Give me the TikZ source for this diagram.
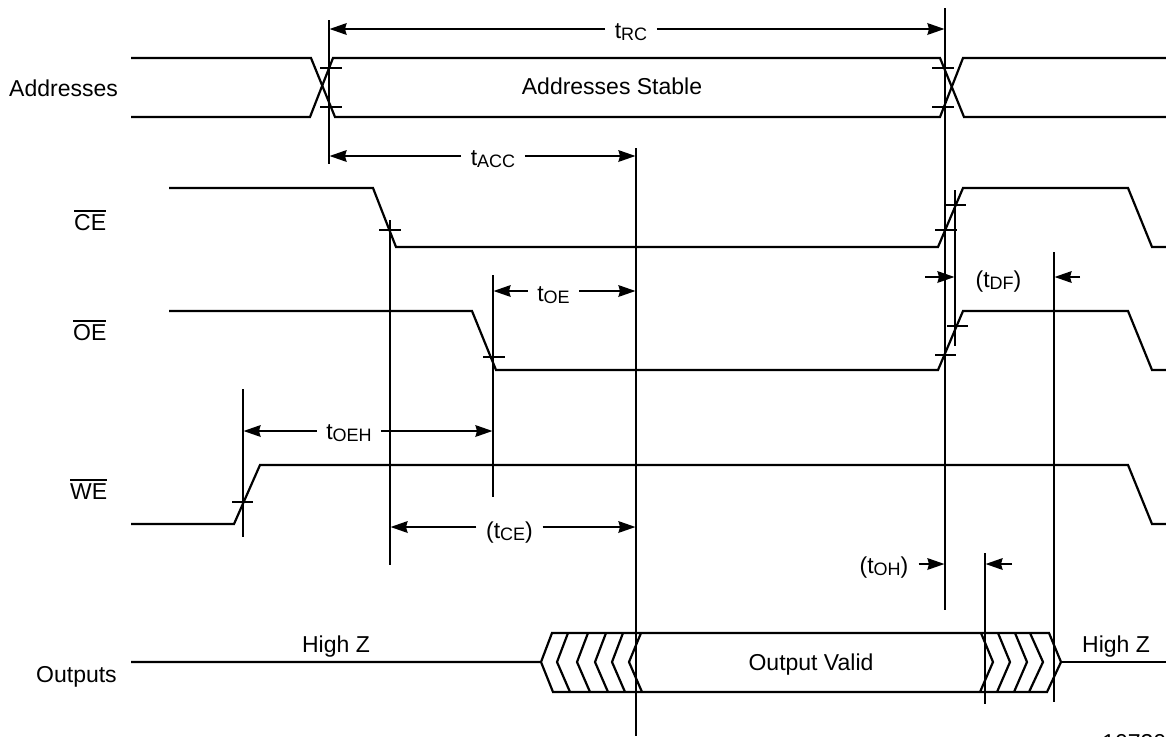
\documentclass[tikz,border=0pt]{standalone}
\usepackage{fontspec}
\setmainfont{Liberation Sans}
\usetikzlibrary{arrows.meta}
\newcommand{\ovl}[1]{\setbox0\hbox{#1}\rlap{\raisebox{18.2pt}{\rule{\wd0}{1.8pt}}}\box0 }
\newcommand{\tsub}[2]{#1\raisebox{-2.5pt}{\fontsize{18}{20}\selectfont #2}}
\tikzset{
  wave/.style={line width=2.2pt,line join=miter,black},
  guide/.style={line width=2.2pt,black},
  tick/.style={line width=2.2pt,black},
  dim/.style={line width=2.2pt,black,-{Stealth[length=17pt,width=11.5pt,inset=1.5pt]},shorten >=0.5pt},
  lab/.style={font=\fontsize{23}{27}\selectfont,inner sep=0pt,anchor=base,text=black},
  sig/.style={lab,anchor=base west},
  tlab/.style={lab,inner xsep=9.5pt},
}
\begin{document}
\begin{tikzpicture}[x=1pt,y=-1pt]
\useasboundingbox (0,0) rectangle (1166,736);
% guide lines
\draw[guide] (329,20) coordinate (gAt) -- (329,164) coordinate (gAb);
\draw[guide] (945,8) coordinate (gBt) -- (945,610) coordinate (gBb);
\draw[guide] (636,148) coordinate (gCt) -- (636,736) coordinate (gCb);
\draw[guide] (390,220) coordinate (gDt) -- (390,565) coordinate (gDb);
\draw[guide] (493,275) coordinate (gEt) -- (493,497) coordinate (gEb);
\draw[guide] (243,389) coordinate (gFt) -- (243,537) coordinate (gFb);
\draw[guide] (955,190) coordinate (gGt) -- (955,346) coordinate (gGb);
\draw[guide] (1054,252) coordinate (gHt) -- (1054,702) coordinate (gHb);
\draw[guide] (985,553) coordinate (gIt) -- (985,704) coordinate (gIb);
% waveforms
\draw[wave] (131,58) -- (311,58) -- (335,117) -- (940,117) -- (963,58) -- (1166,58);
\draw[wave] (131,117) -- (310,117) -- (333,58) -- (940,58) -- (964,117) -- (1166,117);
\draw[wave] (169,188) -- (373,188) -- (396,247) -- (938,247) -- (963,188) -- (1128,188) -- (1152,247) -- (1166,247);
\draw[wave] (169,311) -- (472,311) -- (496,370) -- (938,370) -- (963,311) -- (1128,311) -- (1152,370) -- (1166,370);
\draw[wave] (131,524) -- (234,524) -- (260,465) -- (1128,465) -- (1152,524) -- (1166,524);
% outputs
\draw[wave] (131,662) -- (541,662) -- (552,633) -- (1049,633) -- (1061,662) -- (1047,692) -- (553,692) -- (541,662);
\draw[wave] (1061,662) -- (1166,662);
\foreach \a/\b/\c in {568/557/570,588/577/590,606/595/608,623/612/625,641/629/642}
  \draw[wave] (\a,633) -- (\b,662) -- (\c,692);
\foreach \a/\b/\c in {981/993/980,998/1010/997,1015/1027/1014,1030/1043/1029}
  \draw[wave] (\a,633) -- (\b,662) -- (\c,692);
% ticks
\foreach \l/\r/\y in {320/342/68,320/342/107,932/954/68,932/954/107,379/401/230,945/966/205,935/957/230,483/505/357,947/968/326,935/956/355,232/253/502}
  \draw[tick] (\l,\y) -- (\r,\y);
% signal labels
\node[sig] (nAddr) at (9,96.5) {Addresses};
\node[sig] (nCE) at (74,230) {\ovl{CE}};
\node[sig] (nOE) at (73,340) {\ovl{OE}};
\node[sig] (nWE) at (70,499) {\ovl{WE}};
\node[sig] (nOut) at (36,682) {Outputs};
\node[lab] (nStable) at (612,94.5) {Addresses Stable};
\node[lab] (nHzA) at (336,652) {High Z};
\node[lab] (nValid) at (811,670) {Output Valid};
\node[sig] (nHzB) at (1082,652) {High Z};
\node[sig] (nPart) at (1102,750) {107305};
% timing labels and arrows
\node[tlab] (tRC) at (631,38) {\tsub{t}{RC}};
\draw[dim] (tRC.west |- 0,29) -- (gAt |- 0,29);
\draw[dim] (tRC.east |- 0,29) -- (gBt |- 0,29);
\node[tlab] (tACC) at (493,165) {\tsub{t}{ACC}};
\draw[dim] (tACC.west |- 0,156) -- (gAt |- 0,156);
\draw[dim] (tACC.east |- 0,156) -- (gCt |- 0,156);
\node[tlab] (tOE) at (553.5,301) {\tsub{t}{OE}};
\draw[dim] (tOE.west |- 0,291) -- (gEt |- 0,291);
\draw[dim] (tOE.east |- 0,291) -- (gCt |- 0,291);
\node[tlab] (tOEH) at (349,439) {\tsub{t}{OEH}};
\draw[dim] (tOEH.west |- 0,431) -- (gFt |- 0,431);
\draw[dim] (tOEH.east |- 0,431) -- (gEt |- 0,431);
\node[tlab] (tCE) at (509.5,538) {(\tsub{t}{CE})};
\draw[dim] (tCE.west |- 0,527) -- (gDt |- 0,527);
\draw[dim] (tCE.east |- 0,527) -- (gCt |- 0,527);
\node[lab] (tDF) at (998.5,287) {(\tsub{t}{DF})};
\coordinate (aDFl) at (925,277);
\coordinate (aDFr) at (1080,277);
\draw[dim] (aDFl) -- (gGt |- aDFl);
\draw[dim] (aDFr) -- (gHt |- aDFr);
\node[lab,inner xsep=10pt] (tOH) at (884,573) {(\tsub{t}{OH})};
\coordinate (aOHr) at (1012,564);
\draw[dim] (tOH.east |- 0,564) -- (gBt |- 0,564);
\draw[dim] (aOHr) -- (gIt |- aOHr);
\end{tikzpicture}
\end{document}
